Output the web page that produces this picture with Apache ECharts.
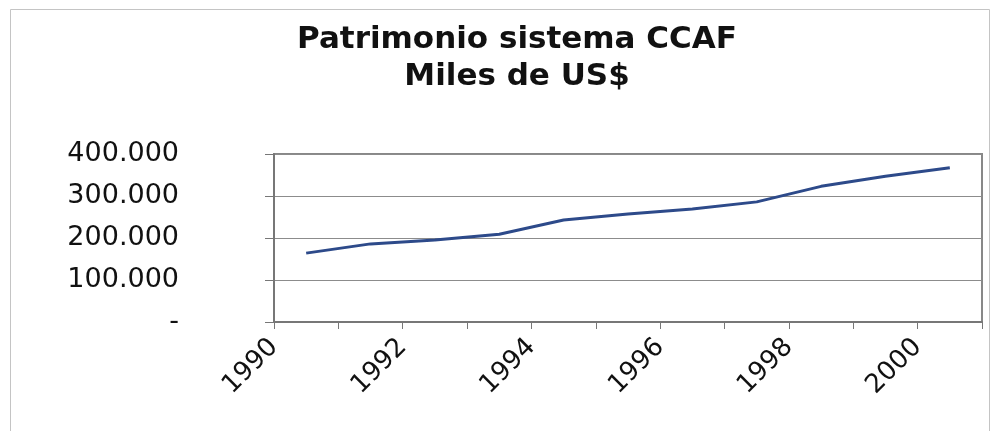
<!DOCTYPE html>
<html>
<head>
<meta charset="utf-8">
<script src="https://cdn.jsdelivr.net/npm/echarts@6/dist/echarts.min.js"></script>
<style>
  html, body { margin: 0; padding: 0; background: #ffffff; }
  #chart { width: 995px; height: 431px; }
</style>
</head>
<body>
<div id="chart"></div>
<script>
// Data (thousands of US$)
const years = ['1990', '1991', '1992', '1993', '1994', '1995', '1996', '1997', '1998', '1999', '2000'];
const patrimonio = [164000, 186000, 195000, 209000, 243000, 257000, 269000, 286000, 323000, 347000, 367000];
// Tick-label axis: labels sit at category boundaries, every second year shown
const tickYears = ['1990', '1991', '1992', '1993', '1994', '1995', '1996', '1997', '1998', '1999', '2000', '2001'];
const yTicks = { min: 0, max: 400000, interval: 100000 };

function fmtThousands(v) {
  if (v === 0) return '-';
  return String(Math.round(v)).replace(/\B(?=(\d{3})+(?!\d))/g, '.');
}

const chart = echarts.init(document.getElementById('chart'), null, { renderer: 'canvas' });

const FONT = 'DejaVu Sans';

chart.setOption({
  animation: false,
  backgroundColor: '#ffffff',
  title: {
    text: 'Patrimonio sistema CCAF\nMiles de US$',
    left: 512,
    top: 16,
    textAlign: 'center',
    padding: 5,
    textStyle: {
      fontFamily: FONT,
      fontWeight: 'bold',
      fontSize: 31,
      lineHeight: 37,
      color: '#111111',
      align: 'center'
    }
  },
  graphic: [{
    type: 'rect',
    left: 8, top: 7,
    shape: { width: 979, height: 440 },
    style: { fill: 'none', stroke: '#c4c4c4', lineWidth: 1 },
    silent: true
  }],
  grid: {
    left: 274, right: 13, top: 154, bottom: 109,
    show: true,
    borderColor: '#888888',
    borderWidth: 2,
    backgroundColor: 'transparent'
  },
  xAxis: [{
    type: 'category',
    position: 'bottom',
    data: years,
    boundaryGap: true,
    axisLine: { show: true, lineStyle: { color: '#777777', width: 2 } },
    axisTick: { show: true, interval: 0, length: 7, lineStyle: { color: '#777777', width: 1 } },
    axisLabel: { show: false },
    splitLine: { show: false }
  }, {
    type: 'category',
    position: 'bottom',
    data: tickYears,
    boundaryGap: false,
    axisLine: { show: false },
    axisTick: { show: false },
    splitLine: { show: false },
    axisLabel: {
      show: true,
      rotate: 45,
      margin: 21,
      interval: function (index) { return index % 2 === 0 && index < years.length; },
      fontFamily: FONT,
      fontSize: 26,
      color: '#111111'
    }
  }],
  yAxis: {
    type: 'value',
    min: yTicks.min,
    max: yTicks.max,
    interval: yTicks.interval,
    axisLine: { show: true, lineStyle: { color: '#777777', width: 2 } },
    axisTick: { show: true, length: 9, lineStyle: { color: '#777777', width: 1 } },
    splitLine: { show: true, lineStyle: { color: '#8c8c8c', width: 1 } },
    axisLabel: {
      margin: 95,
      formatter: fmtThousands,
      fontFamily: FONT,
      fontSize: 27,
      color: '#111111'
    }
  },
  series: [{
    type: 'line',
    name: 'Patrimonio',
    xAxisIndex: 0,
    data: patrimonio,
    showSymbol: false,
    symbol: 'none',
    smooth: false,
    lineStyle: { color: '#2D4A8A', width: 3 }
  }]
});
</script>
</body>
</html>
